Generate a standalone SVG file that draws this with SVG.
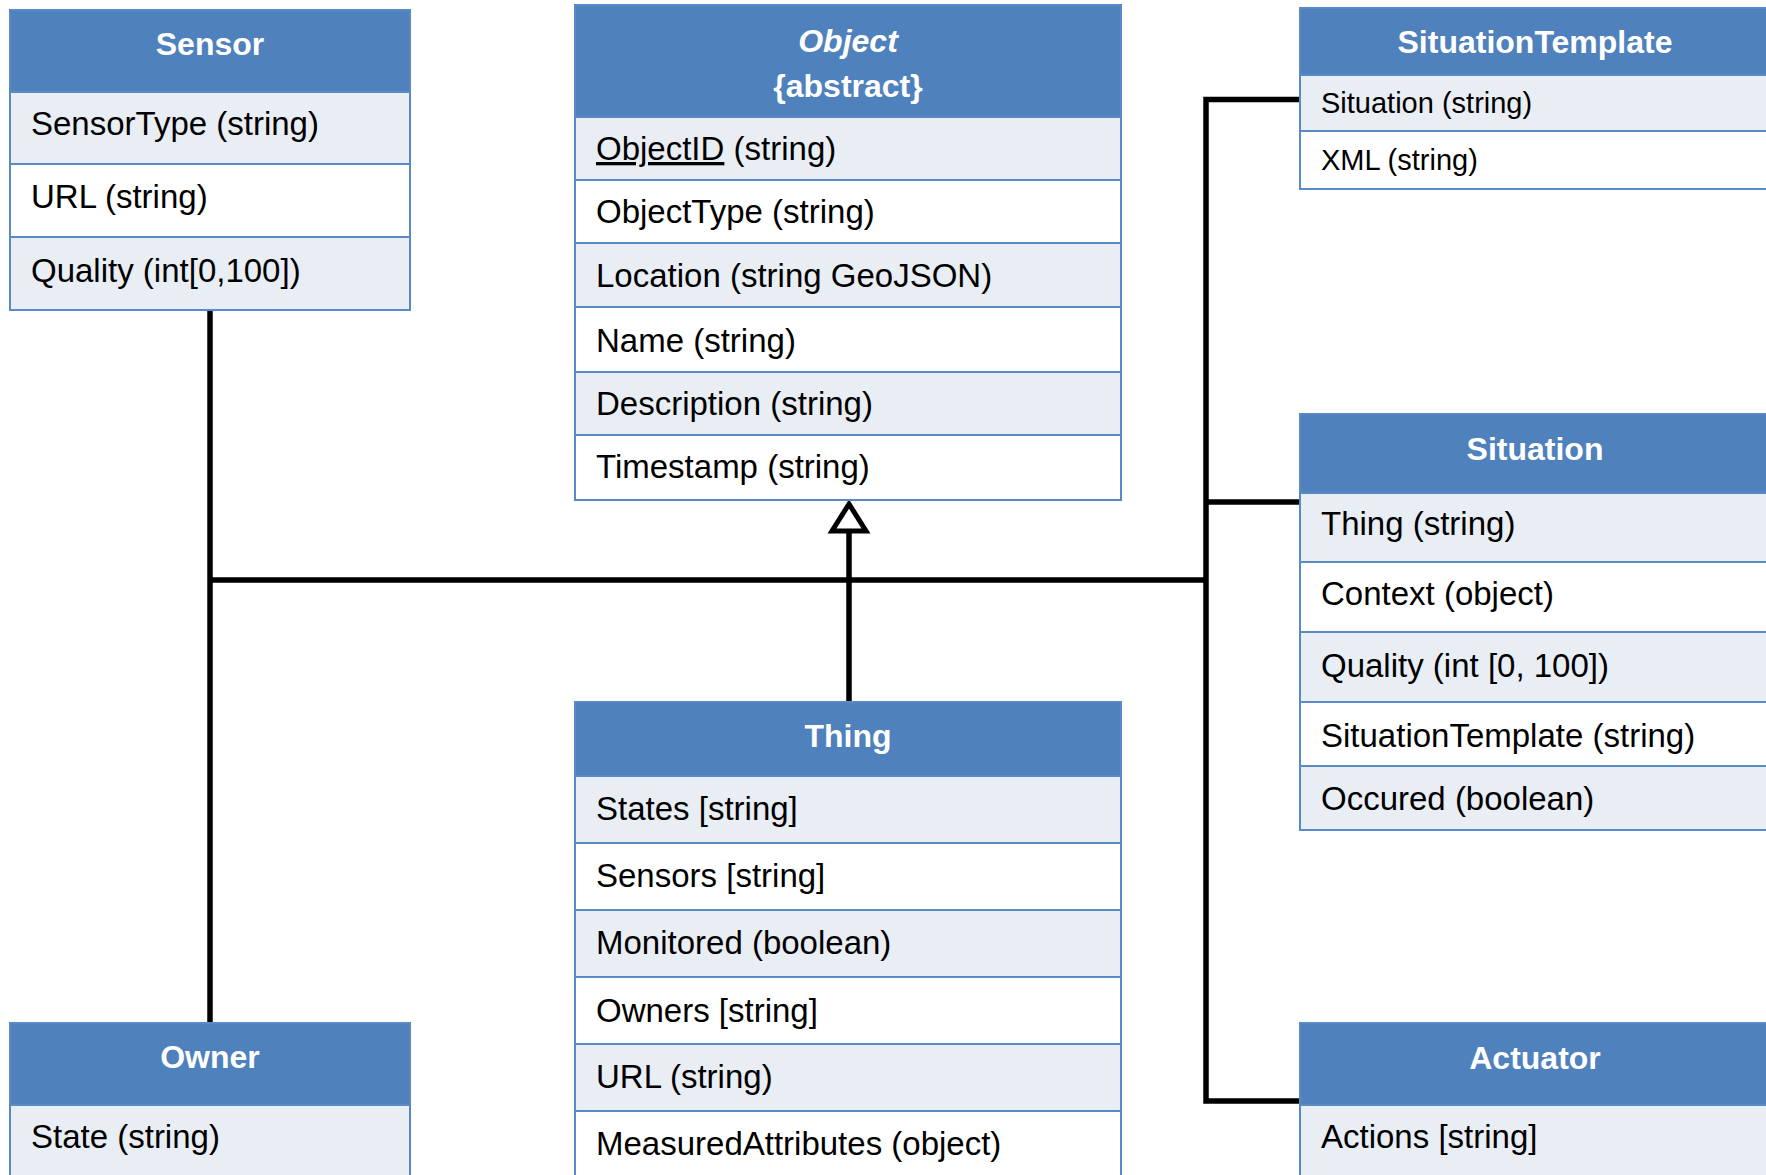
<svg xmlns="http://www.w3.org/2000/svg" width="1766" height="1175" viewBox="0 0 1766 1175">
  <style>
    .hdr { fill: #4F81BD; stroke: #5A8AC6; stroke-width: 2; }
    .alt { fill: #E9EDF4; stroke: #5A8AC6; stroke-width: 2; }
    .pln { fill: #FFFFFF; stroke: #5A8AC6; stroke-width: 2; }
    .title { font-family: "Liberation Sans", Arial, sans-serif; font-weight: bold; font-size: 32px; fill: #FFFFFF; text-anchor: middle; }
    .attr { font-family: "Liberation Sans", Arial, sans-serif; font-size: 33px; fill: #000000; }
    .attr-sm { font-family: "Liberation Sans", Arial, sans-serif; font-size: 29px; fill: #000000; }
    .link { fill: none; stroke: #000000; stroke-width: 5.5; stroke-linejoin: miter; }
  </style>
  <defs>
    <!-- hollow generalization triangle, tip at the path end -->
    <marker id="gen" markerUnits="userSpaceOnUse" viewBox="-34 -24 40 48" markerWidth="40" markerHeight="48" refX="0" refY="0" orient="auto" overflow="visible">
      <path d="M0,0 L-27,-17 L-27,17 Z" fill="#FFFFFF" stroke="#000000" stroke-width="5" stroke-linejoin="miter"/>
    </marker>
  </defs>
  <rect width="1766" height="1175" fill="#FFFFFF"/>

  <!-- connectors -->
  <g id="connectors">
    <path class="link" d="M210,310 V1023"/>
    <path class="link" d="M210,580 H1206"/>
    <path class="link" d="M1300,99.5 H1206 V1101 H1300"/>
    <path class="link" d="M1206,502 H1300"/>
    <path class="link" d="M849,702 V504" marker-end="url(#gen)"/>
  </g>

  <!-- Sensor -->
  <g id="sensor">
    <rect class="hdr" x="10" y="10" width="400" height="82"/>
    <rect class="alt" x="10" y="92" width="400" height="72"/>
    <rect class="pln" x="10" y="164" width="400" height="73"/>
    <rect class="alt" x="10" y="237" width="400" height="73"/>
    <text class="title" x="210" y="55">Sensor</text>
    <text class="attr" x="31" y="135">SensorType (string)</text>
    <text class="attr" x="31" y="208">URL (string)</text>
    <text class="attr" x="31" y="282">Quality (int[0,100])</text>
  </g>

  <!-- Object (abstract) -->
  <g id="object">
    <rect class="hdr" x="575" y="5" width="546" height="112"/>
    <rect class="alt" x="575" y="117" width="546" height="63"/>
    <rect class="pln" x="575" y="180" width="546" height="63"/>
    <rect class="alt" x="575" y="243" width="546" height="64"/>
    <rect class="pln" x="575" y="307" width="546" height="65"/>
    <rect class="alt" x="575" y="372" width="546" height="63"/>
    <rect class="pln" x="575" y="435" width="546" height="65"/>
    <text class="title" x="848" y="52" font-style="italic">Object</text>
    <text class="title" x="848" y="97">{abstract}</text>
    <text class="attr" x="596" y="160"><tspan text-decoration="underline">ObjectID</tspan> (string)</text>
    <text class="attr" x="596" y="223">ObjectType (string)</text>
    <text class="attr" x="596" y="287">Location (string GeoJSON)</text>
    <text class="attr" x="596" y="352">Name (string)</text>
    <text class="attr" x="596" y="415">Description (string)</text>
    <text class="attr" x="596" y="478">Timestamp (string)</text>
  </g>

  <!-- Thing -->
  <g id="thing">
    <rect class="hdr" x="575" y="702" width="546" height="74"/>
    <rect class="alt" x="575" y="776" width="546" height="67"/>
    <rect class="pln" x="575" y="843" width="546" height="67"/>
    <rect class="alt" x="575" y="910" width="546" height="67"/>
    <rect class="pln" x="575" y="977" width="546" height="67"/>
    <rect class="alt" x="575" y="1044" width="546" height="67"/>
    <rect class="pln" x="575" y="1111" width="546" height="80"/>
    <text class="title" x="848" y="747">Thing</text>
    <text class="attr" x="596" y="820">States [string]</text>
    <text class="attr" x="596" y="887">Sensors [string]</text>
    <text class="attr" x="596" y="954">Monitored (boolean)</text>
    <text class="attr" x="596" y="1022">Owners [string]</text>
    <text class="attr" x="596" y="1088">URL (string)</text>
    <text class="attr" x="596" y="1155">MeasuredAttributes (object)</text>
  </g>

  <!-- Owner -->
  <g id="owner">
    <rect class="hdr" x="10" y="1023" width="400" height="82"/>
    <rect class="alt" x="10" y="1105" width="400" height="85"/>
    <text class="title" x="210" y="1068">Owner</text>
    <text class="attr" x="31" y="1148">State (string)</text>
  </g>

  <!-- SituationTemplate -->
  <g id="situation-template">
    <rect class="hdr" x="1300" y="8" width="470" height="67"/>
    <rect class="alt" x="1300" y="75" width="470" height="56"/>
    <rect class="pln" x="1300" y="131" width="470" height="58"/>
    <text class="title" x="1535" y="53">SituationTemplate</text>
    <text class="attr-sm" x="1321" y="113">Situation (string)</text>
    <text class="attr-sm" x="1321" y="170">XML (string)</text>
  </g>

  <!-- Situation -->
  <g id="situation">
    <rect class="hdr" x="1300" y="414" width="470" height="79"/>
    <rect class="alt" x="1300" y="493" width="470" height="69"/>
    <rect class="pln" x="1300" y="562" width="470" height="70"/>
    <rect class="alt" x="1300" y="632" width="470" height="70"/>
    <rect class="pln" x="1300" y="702" width="470" height="64"/>
    <rect class="alt" x="1300" y="766" width="470" height="64"/>
    <text class="title" x="1535" y="460">Situation</text>
    <text class="attr" x="1321" y="535">Thing (string)</text>
    <text class="attr" x="1321" y="605">Context (object)</text>
    <text class="attr" x="1321" y="677">Quality (int [0, 100])</text>
    <text class="attr" x="1321" y="747">SituationTemplate (string)</text>
    <text class="attr" x="1321" y="810">Occured (boolean)</text>
  </g>

  <!-- Actuator -->
  <g id="actuator">
    <rect class="hdr" x="1300" y="1023" width="470" height="82"/>
    <rect class="alt" x="1300" y="1105" width="470" height="85"/>
    <text class="title" x="1535" y="1069">Actuator</text>
    <text class="attr" x="1321" y="1148">Actions [string]</text>
  </g>
</svg>
